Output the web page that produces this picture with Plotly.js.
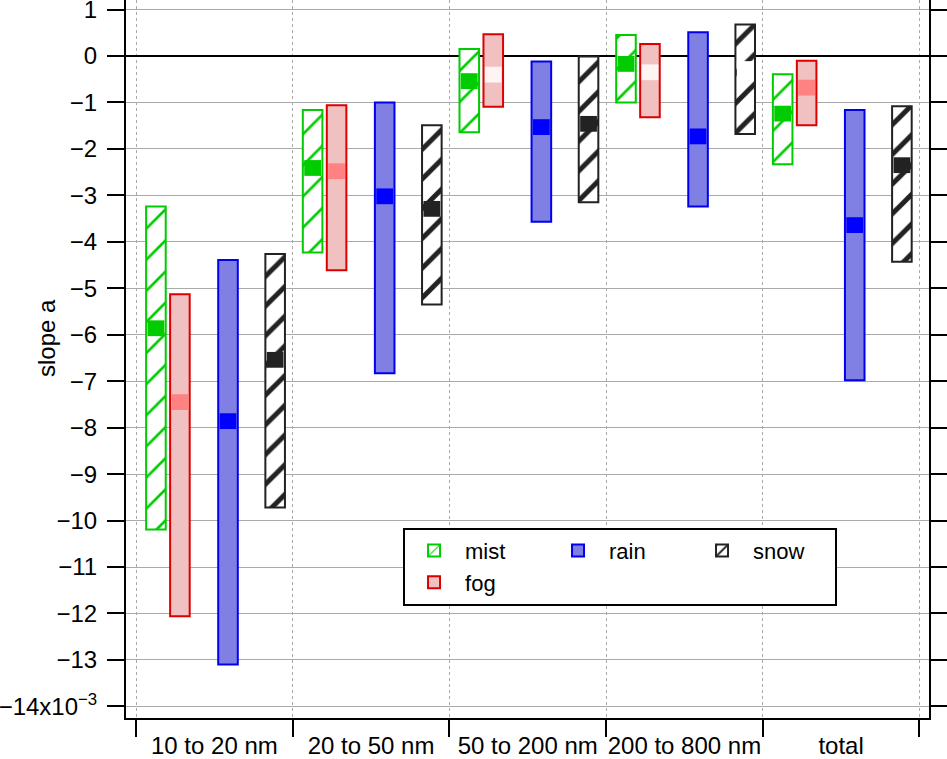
<!DOCTYPE html>
<html>
<head>
<meta charset="utf-8">
<script src="https://cdn.plot.ly/plotly-3.0.1.min.js"></script>
<style>
  html, body { margin: 0; padding: 0; background: #fff; }
  #chart { width: 947px; height: 759px; }
</style>
</head>
<body>
<div id="chart"></div>
<script>
// slope a (x10^-3) per size range: low end, high end and median of each range
const groups = ["10 to 20 nm", "20 to 50 nm", "50 to 200 nm", "200 to 800 nm", "total"];

const mistLow = [-10.19, -4.23, -1.64, -1.00, -2.33];
const mistHigh = [-3.24, -1.16, 0.15, 0.45, -0.39];
const mistMedian = [-5.86, -2.41, -0.54, -0.17, -1.24];
const mistFaint = [false, false, false, false, false];

const fogLow = [-12.06, -4.61, -1.09, -1.32, -1.49];
const fogHigh = [-5.13, -1.06, 0.47, 0.26, -0.10];
const fogMedian = [-7.45, -2.48, -0.40, -0.35, -0.68];
const fogFaint = [false, false, true, true, false];

const rainLow = [-13.10, -6.83, -3.57, -3.24, -6.98];
const rainHigh = [-4.39, -1.00, -0.12, 0.51, -1.16];
const rainMedian = [-7.86, -3.02, -1.53, -1.73, -3.64];
const rainFaint = [false, false, false, false, false];

const snowLow = [-9.72, -5.35, -3.15, -1.68, -4.43];
const snowHigh = [-4.26, -1.49, -0.01, 0.68, -1.08];
const snowMedian = [-6.54, -3.29, -1.46, -0.28, -2.35];
const snowFaint = [false, false, false, true, false];

const yTicks = [1, 0, -1, -2, -3, -4, -5, -6, -7, -8, -9, -10, -11, -12, -13, -14];

const FONT = "Liberation Sans, Arial, sans-serif";
const BAR_W = 0.125;
const MED_HALF = 0.17;

const series = [
  { name: "mist", low: mistLow, high: mistHigh, med: mistMedian, faint: mistFaint,
    offset: 0.127, line: "#00cc00", fill: "#ffffff", medColor: "#00cc00", faintColor: "#ffffff",
    pattern: { shape: "/", fgcolor: "#00cc00", bgcolor: "#ffffff", size: 22, solidity: 0.12 },
    group: "g1", rank: 1 },
  { name: "fog", low: fogLow, high: fogHigh, med: fogMedian, faint: fogFaint,
    offset: 0.28, line: "#dd0000", fill: "#f1c0c0", medColor: "#ff8282", faintColor: "#fff4f4",
    pattern: null, group: "g1", rank: 2 },
  { name: "rain", low: rainLow, high: rainHigh, med: rainMedian, faint: rainFaint,
    offset: 0.587, line: "#0000ee", fill: "#8080e4", medColor: "#0000ff", faintColor: "#ffffff",
    pattern: null, group: "g2", rank: 3 },
  { name: "snow", low: snowLow, high: snowHigh, med: snowMedian, faint: snowFaint,
    offset: 0.888, line: "#222222", fill: "#ffffff", medColor: "#222222", faintColor: "#ffffff",
    pattern: { shape: "/", fgcolor: "#222222", bgcolor: "#ffffff", size: 21, solidity: 0.24 },
    group: "g3", rank: 4 }
];

const traces = [];

series.forEach(function (s) {
  const xs = groups.map(function (g, i) { return i + s.offset; });
  const marker = {
    color: s.fill,
    line: { color: s.line, width: 2 }
  };
  if (s.pattern) marker.pattern = s.pattern;
  traces.push({
    type: "bar",
    name: s.name,
    x: xs,
    base: s.low,
    y: s.high.map(function (h, i) { return h - s.low[i]; }),
    width: BAR_W,
    marker: marker,
    legendgroup: s.group,
    legendrank: s.rank,
    hoverinfo: "skip"
  });
});

// median bands drawn on top of the ranges
series.forEach(function (s) {
  const xs = groups.map(function (g, i) { return i + s.offset; });
  traces.push({
    type: "bar",
    name: s.name + " median",
    x: xs,
    base: s.med.map(function (m) { return m - MED_HALF; }),
    y: s.med.map(function () { return 2 * MED_HALF; }),
    width: BAR_W - 0.018,
    marker: {
      color: s.faint.map(function (f) { return f ? s.faintColor : s.medColor; }),
      line: { width: 0 }
    },
    showlegend: false,
    hoverinfo: "skip"
  });
});

// invisible trace to carry the category labels on a second x axis
traces.push({
  type: "scatter",
  mode: "markers",
  x: groups.map(function (g, i) { return i + 0.5; }),
  y: groups.map(function () { return 0; }),
  xaxis: "x2",
  marker: { opacity: 0 },
  showlegend: false,
  hoverinfo: "skip"
});

const xRange = [-0.064, 5.061];

const layout = {
  width: 947,
  height: 759,
  margin: { l: 126, r: 18, t: 0, b: 41 },
  paper_bgcolor: "#ffffff",
  plot_bgcolor: "#ffffff",
  font: { family: FONT, size: 24, color: "#000" },
  barmode: "overlay",
  showlegend: true,
  xaxis: {
    range: xRange,
    tickvals: [0, 1, 2, 3, 4, 5],
    showticklabels: false,
    ticks: "outside",
    ticklen: 17,
    tickwidth: 2,
    tickcolor: "#000",
    showline: true,
    linewidth: 2,
    linecolor: "#000",
    showgrid: true,
    gridcolor: "#aaaaaa",
    gridwidth: 1,
    griddash: "dot",
    zeroline: false,
    fixedrange: true
  },
  xaxis2: {
    overlaying: "x",
    side: "bottom",
    anchor: "y",
    range: xRange,
    tickvals: groups.map(function (g, i) { return i + 0.5; }),
    ticktext: groups,
    ticks: "outside",
    ticklen: 6,
    tickcolor: "rgba(0,0,0,0)",
    showgrid: false,
    zeroline: false,
    showline: false,
    ticklabeloverflow: "allow",
    tickfont: { family: FONT, size: 24, color: "#000" }
  },
  yaxis: {
    range: [-14.25, 1.206],
    tickvals: yTicks,
    ticktext: yTicks.map(function (v) {
      if (v === -14) return "\u221214x10<sup>\u22123</sup>";
      return v < 0 ? "\u2212" + Math.abs(v) : String(v);
    }),
    ticks: "outside",
    ticklen: 17,
    tickwidth: 2,
    tickcolor: "#000",
    ticklabelstandoff: 5,
    ticklabeloverflow: "allow",
    showline: true,
    linewidth: 2,
    linecolor: "#000",
    mirror: "ticks",
    showgrid: true,
    gridcolor: "#aaaaaa",
    gridwidth: 1,
    zeroline: true,
    zerolinecolor: "#000",
    zerolinewidth: 2,
    tickfont: { family: FONT, size: 24, color: "#000" },
    fixedrange: true
  },
  annotations: [{
    text: "slope a",
    xref: "paper",
    yref: "y",
    x: -0.0996,
    y: -6.07,
    xanchor: "center",
    yanchor: "middle",
    textangle: -90,
    showarrow: false,
    font: { family: FONT, size: 24, color: "#000" }
  }],
  legend: {
    x: 0.345,
    y: 0.265,
    xanchor: "left",
    yanchor: "top",
    orientation: "h",
    traceorder: "grouped",
    tracegroupgap: 0,
    itemwidth: 52,
    entrywidth: 77,
    bgcolor: "#ffffff",
    bordercolor: "#000",
    borderwidth: 2,
    font: { family: FONT, size: 22, color: "#000" }
  }
};

Plotly.newPlot("chart", traces, layout, { displayModeBar: false, staticPlot: true });
</script>
</body>
</html>
